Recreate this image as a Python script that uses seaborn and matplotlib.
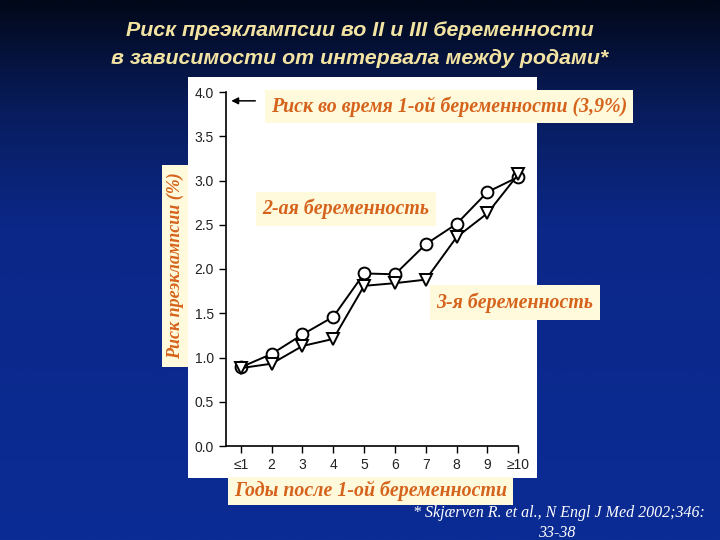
import numpy as np
import matplotlib
matplotlib.use("Agg")
import matplotlib.pyplot as plt
from matplotlib.colors import LinearSegmentedColormap
from matplotlib.patches import Rectangle
import seaborn as sns

# Data
years = [1, 2, 3, 4, 5, 6, 7, 8, 9, 10]
year_labels = ["≤1", "2", "3", "4", "5", "6", "7", "8", "9", "≥10"]
second_preg = [0.89, 1.04, 1.26, 1.46, 1.95, 1.94, 2.28, 2.51, 2.87, 3.04]
third_preg = [0.88, 0.93, 1.13, 1.21, 1.81, 1.84, 1.88, 2.36, 2.63, 3.07]
first_risk = 3.9
y_ticks = [0.0, 0.5, 1.0, 1.5, 2.0, 2.5, 3.0, 3.5, 4.0]

W, H = 720, 540
sns.set_style("white")
fig = plt.figure(figsize=(7.2, 5.4), dpi=100)

def fx(px):
    return px / W

def fy(py):
    return 1 - py / H

# blue gradient background
bg = fig.add_axes([0, 0, 1, 1], zorder=-10)
cmap = LinearSegmentedColormap.from_list(
    "bg", [(0, "#020819"), (0.2, "#081c5c"), (0.42, "#0b2888"), (1, "#0b2c95")])
grad = np.linspace(0, 1, 256).reshape(-1, 1)
bg.imshow(grad, aspect="auto", cmap=cmap, extent=[0, 1, 0, 1], origin="upper")
bg.set_axis_off()

# white chart panel
fig.patches.append(Rectangle((fx(188), fy(478)), fx(537 - 188), (478 - 77) / H,
                             transform=fig.transFigure, facecolor="white",
                             edgecolor="none", zorder=-5))

# title
title_kw = dict(ha="center", va="center", color="#f3e3a2", fontsize=15.4,
                fontweight="bold", style="italic", family="Liberation Sans")
fig.text(0.5, fy(30), "Риск преэклампсии во II и III беременности", **title_kw)
fig.text(0.5, fy(58), "в зависимости от интервала между родами*", **title_kw)

# main axes
ax = fig.add_axes([fx(225.7), fy(446), fx(518.3 - 225.7), (446 - 92) / H])
ax.patch.set_alpha(0)
mk = dict(markersize=8.5, markerfacecolor="white", markeredgecolor="black",
          markeredgewidth=1.4, clip_on=False)
sns.lineplot(x=years, y=second_preg, ax=ax, color="black", lw=1.4, marker="o", **mk)
sns.lineplot(x=years, y=third_preg, ax=ax, color="black", lw=1.4, marker="v", **mk)
ax.set_xlim(0.51, 10)
ax.set_ylim(0, 4)
ax.set_xticks(years)
ax.set_xticklabels(year_labels)
ax.set_yticks(y_ticks)
ax.set_yticklabels([f"{t:.1f}" for t in y_ticks])
for s in ["top", "right"]:
    ax.spines[s].set_visible(False)
for s in ["left", "bottom"]:
    ax.spines[s].set_color("black")
    ax.spines[s].set_linewidth(1.2)
ax.tick_params(axis="both", direction="out", length=5, width=1, color="black",
               labelsize=10, labelcolor="#222222", left=True, bottom=True)
for t in ax.get_xticklabels() + ax.get_yticklabels():
    t.set_family("Liberation Sans")

ax.annotate("", xy=(0.6, first_risk), xytext=(1.56, first_risk),
            arrowprops=dict(arrowstyle="-|>", color="black", lw=1.1,
                            mutation_scale=10))

# orange labels on cream boxes
lab_kw = dict(color="#d5631c", fontweight="bold", style="italic",
              family="Liberation Serif")

def label_box(x0, y0, x1, y1, text, size, rot=0):
    fig.patches.append(Rectangle((fx(x0), fy(y1)), fx(x1 - x0), (y1 - y0) / H,
                                 transform=fig.transFigure, facecolor="#fffadc",
                                 edgecolor="none", zorder=5))
    fig.text(fx((x0 + x1) / 2), fy((y0 + y1) / 2), text, ha="center",
             va="center", fontsize=size, rotation=rot, zorder=6, **lab_kw)

label_box(265, 90, 633, 123, "Риск во время 1-ой беременности (3,9%)", 14.3)
label_box(256, 192, 436, 226, "2-ая беременность", 14.3)
label_box(430, 285, 600, 320, "3-я беременность", 14.3)
label_box(162, 165, 188, 367, "Риск преэклампсии (%)", 13, rot=90)
label_box(228, 477, 513, 505, "Годы после 1-ой беременности", 14.3)

# reference
ref_kw = dict(color="white", style="italic", family="Liberation Serif",
              fontsize=11.5, va="center")
fig.text(fx(705), fy(513), "* Skjærven R. et al., N Engl J Med 2002;346:",
         ha="right", **ref_kw)
fig.text(fx(557), fy(533), "33-38", ha="center", **ref_kw)

fig.savefig("out.png", dpi=100)
